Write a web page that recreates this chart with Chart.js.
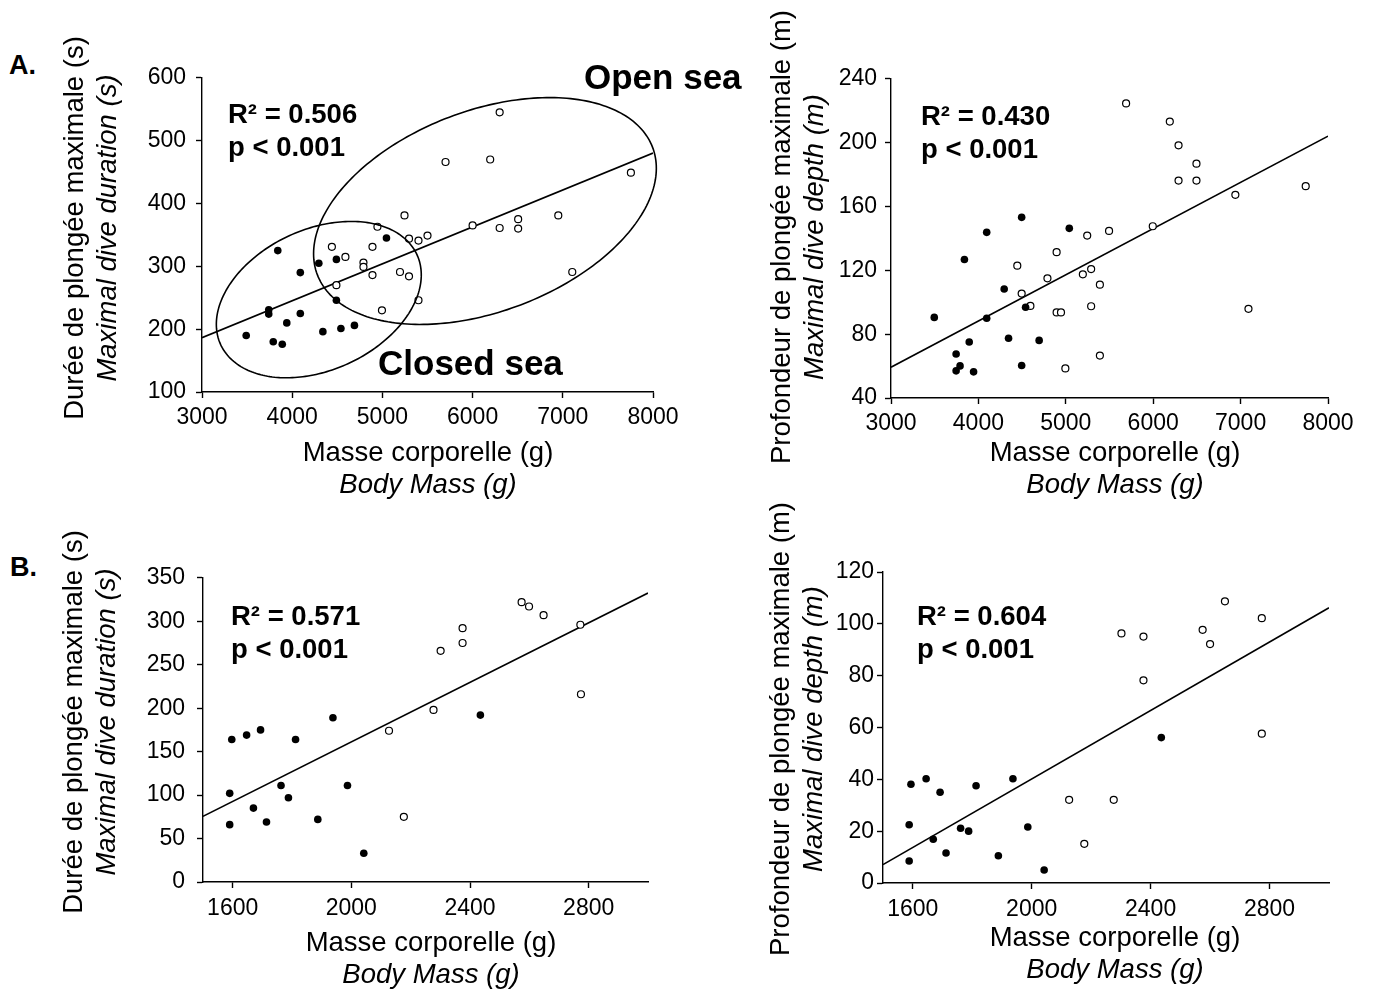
<!DOCTYPE html>
<html lang="fr">
<head>
<meta charset="utf-8">
<title>Plongée maximale et masse corporelle</title>
<script src="https://cdn.jsdelivr.net/npm/chart.js@4.4.1/dist/chart.umd.min.js"></script>
<style>
  html, body { margin: 0; padding: 0; background: #fff; }
  body { width: 1380px; height: 989px; position: relative; overflow: hidden;
         font-family: "Liberation Sans", Arial, Helvetica, sans-serif; color: #000; }
  canvas { position: absolute; z-index: 1; }
  .txt { position: absolute; white-space: nowrap; z-index: 2; }
  .axis-h { font-size: 27.5px; line-height: 32px; text-align: center; width: 420px; }
  .axis-v { font-size: 27.5px; line-height: 33px; text-align: center; width: 520px; height: 66px;
            transform: rotate(-90deg); }
  .stat { font-size: 27.5px; font-weight: bold; line-height: 33px; }
  .zone { font-size: 35px; font-weight: bold; line-height: 35px; }
  .panel { font-size: 27px; font-weight: bold; line-height: 27px; }
  i { font-style: italic; }
</style>
</head>
<body>

<div class="txt panel" style="left:9px; top:52px">A.</div>
<div class="txt panel" style="left:10px; top:554px">B.</div>

<canvas id="aDur"></canvas>
<canvas id="aDep"></canvas>
<canvas id="bDur"></canvas>
<canvas id="bDep"></canvas>

<!-- axis titles -->
<div class="txt axis-v" style="left:-170px; top:195px">Durée de plongée maximale (s)<br><i>Maximal dive duration (s)</i></div>
<div class="txt axis-v" style="left:537px; top:204px">Profondeur de plongée maximale (m)<br><i>Maximal dive depth (m)</i></div>
<div class="txt axis-v" style="left:-171px; top:689px">Durée de plongée maximale (s)<br><i>Maximal dive duration (s)</i></div>
<div class="txt axis-v" style="left:536px; top:696px">Profondeur de plongée maximale (m)<br><i>Maximal dive depth (m)</i></div>

<div class="txt axis-h" style="left:218px; top:436px">Masse corporelle (g)<br><i>Body Mass (g)</i></div>
<div class="txt axis-h" style="left:905px; top:436px">Masse corporelle (g)<br><i>Body Mass (g)</i></div>
<div class="txt axis-h" style="left:221px; top:926px">Masse corporelle (g)<br><i>Body Mass (g)</i></div>
<div class="txt axis-h" style="left:905px; top:921px">Masse corporelle (g)<br><i>Body Mass (g)</i></div>

<!-- fit statistics -->
<div class="txt stat" style="left:228px; top:97px">R² = 0.506<br>p &lt; 0.001</div>
<div class="txt stat" style="left:921px; top:99px">R² = 0.430<br>p &lt; 0.001</div>
<div class="txt stat" style="left:231px; top:599px">R² = 0.571<br>p &lt; 0.001</div>
<div class="txt stat" style="left:917px; top:599px">R² = 0.604<br>p &lt; 0.001</div>

<div class="txt zone" style="left:584px; top:59px">Open sea</div>
<div class="txt zone" style="left:378px; top:345px">Closed sea</div>

<script>
// --- A: adults, duration (s) vs mass (g) ---
const A_DUR_CLOSED_MASS = [3490, 3790, 3890, 3740, 3740, 3840, 3940, 4090, 4090, 4295, 4340, 4490, 4490, 4540, 4690, 5045];
const A_DUR_CLOSED_S    = [190, 180, 176, 231, 224, 325, 210, 290, 225, 305, 196, 311, 246, 201, 206, 345];
const A_DUR_OPEN_MASS   = [4440, 4590, 4790, 4790, 4490, 4890, 4890, 4945, 4995, 5195, 5295, 5295, 5400, 5400, 5500, 5245,
                           5700, 6000, 6195, 6300, 6300, 6505, 6505, 6950, 7105, 7755];
const A_DUR_OPEN_S      = [331, 315, 306, 299, 270, 331, 286, 363, 230, 291, 284, 344, 341, 246, 349, 381,
                           466, 365, 470, 545, 361, 375, 360, 381, 291, 449];
const A_DUR_FIT_MASS    = [3000, 8000];
const A_DUR_FIT_S       = [186.4, 480.3];

// --- A: adults, depth (m) vs mass (g) ---
const A_DEP_CLOSED_MASS = [3495, 3745, 3745, 3790, 3945, 3840, 3895, 4095, 4095, 4295, 4345, 4495, 4495, 4540, 4695, 5040];
const A_DEP_CLOSED_M    = [90.5, 67.6, 57, 60.1, 56.4, 126.8, 75.1, 143.8, 90, 108.3, 77.4, 153.2, 60.4, 96.9, 76.1, 146.3];
const A_DEP_OPEN_MASS   = [4445, 4495, 4595, 4790, 4895, 4895, 4945, 4995, 5195, 5245, 5290, 5290, 5390, 5390, 5495,
                           5690, 5995, 6190, 6290, 6290, 6495, 6495, 6940, 7090, 7745];
const A_DEP_OPEN_M      = [122.9, 105.4, 97.7, 115, 131.4, 93.6, 93.6, 58.5, 117.5, 141.8, 120.8, 97.5, 111, 66.6, 144.7,
                           224.6, 147.6, 213.2, 198.3, 176.2, 186.8, 176.2, 167.3, 95.9, 172.7];
const A_DEP_FIT_MASS    = [3000, 8000];
const A_DEP_FIT_M       = [59.3, 204.1];

// --- B: duration (s) vs mass (g) ---
const B_DUR_CLOSED_MASS = [1597, 1647, 1694, 1812, 1938, 1590, 1590, 1670, 1714, 1763, 1788, 1887, 1987, 2042, 2435];
const B_DUR_CLOSED_S    = [164, 169, 175, 164, 189, 102, 66, 85, 69, 111, 97, 72, 111, 33, 192];
const B_DUR_OPEN_MASS   = [2127, 2177, 2277, 2301, 2375, 2375, 2574, 2599, 2648, 2772, 2774];
const B_DUR_OPEN_S      = [174, 75, 198, 266, 275, 292, 322, 317, 307, 296, 216];
const B_DUR_FIT_MASS    = [1500, 3000];
const B_DUR_FIT_S       = [75.5, 332.5];

// --- B: depth (m) vs mass (g) ---
const B_DEP_CLOSED_MASS = [1594, 1645, 1692, 1813, 1937, 1588, 1588, 1669, 1712, 1761, 1788, 1888, 1987, 2042, 2436];
const B_DEP_CLOSED_M    = [38.1, 40.2, 35.0, 37.5, 40.2, 22.5, 8.5, 16.9, 11.6, 21.1, 20.0, 10.5, 21.6, 5.0, 56.1];
const B_DEP_OPEN_MASS   = [2126, 2177, 2276, 2302, 2376, 2376, 2575, 2600, 2650, 2774, 2774];
const B_DEP_OPEN_M      = [32.1, 15.1, 32.1, 96.3, 95.1, 78.2, 97.7, 92.2, 108.7, 102.2, 57.6];
const B_DEP_FIT_MASS    = [1500, 3000];
const B_DEP_FIT_M       = [7.1, 106.2];

// tick values
const TICKS_MASS_A = [3000, 4000, 5000, 6000, 7000, 8000];
const TICKS_MASS_B = [1600, 2000, 2400, 2800];
const TICKS_DUR_A  = [100, 200, 300, 400, 500, 600];
const TICKS_DEP_A  = [40, 80, 120, 160, 200, 240];
const TICKS_DUR_B  = [0, 50, 100, 150, 200, 250, 300, 350];
const TICKS_DEP_B  = [0, 20, 40, 60, 80, 100, 120];

// habitat zones on the A duration plot (data units; skew = y shift at the x extremes)
const ZONE_CLOSED = { cx: 4295, cy: 247, rx: 1136, ry: 124.4, skew: 39.3 };
const ZONE_OPEN   = { cx: 6137, cy: 388, rx: 1900, ry: 180.5, skew: 68 };

Chart.defaults.font.family = '"Liberation Sans", Arial, Helvetica, sans-serif';
Chart.defaults.font.size = 23;
Chart.defaults.color = '#000';

const pts = (xs, ys) => xs.map((x, i) => ({ x, y: ys[i] }));

function zonesPlugin(zones) {
  return {
    id: 'zones',
    afterDatasetsDraw(chart) {
      const { ctx, scales: { x, y } } = chart;
      ctx.save();
      ctx.lineWidth = 1.6;
      ctx.strokeStyle = '#000';
      zones.forEach(z => {
        const k = Math.sqrt(z.ry * z.ry - z.skew * z.skew);
        ctx.beginPath();
        for (let i = 0; i <= 240; i++) {
          const t = i / 240 * Math.PI * 2;
          const px = x.getPixelForValue(z.cx + z.rx * Math.cos(t));
          const py = y.getPixelForValue(z.cy + z.skew * Math.cos(t) + k * Math.sin(t));
          if (i === 0) ctx.moveTo(px, py); else ctx.lineTo(px, py);
        }
        ctx.closePath();
        ctx.stroke();
      });
      ctx.restore();
    }
  };
}

function axis(range, ticks, pad, fit) {
  return {
    type: 'linear',
    min: range[0],
    max: range[1],
    afterBuildTicks: s => { s.ticks = ticks.map(v => ({ value: v })); },
    afterFit: fit,
    ticks: { padding: pad, color: '#000', callback: v => String(v) },
    grid: { drawOnChartArea: false, drawTicks: true, tickLength: 6, tickWidth: 1.4, tickColor: '#000' },
    border: { display: true, color: '#000', width: 1.4 },
  };
}

// box = chart area in page pixels
function drawPanel(id, box, p) {
  const YW = 100, PT = 20, PR = 40, XH = 50;
  const cv = document.getElementById(id);
  cv.width = box.r - box.l + YW + PR;
  cv.height = box.b - box.t + PT + XH;
  cv.style.left = (box.l - YW) + 'px';
  cv.style.top = (box.t - PT) + 'px';

  return new Chart(cv, {
    type: 'scatter',
    data: {
      datasets: [
        {
          data: pts(p.closed[0], p.closed[1]),
          pointRadius: 3.8, pointBackgroundColor: '#000', pointBorderColor: '#000', pointBorderWidth: 0,
          order: 0,
        },
        {
          data: pts(p.open[0], p.open[1]),
          pointRadius: 3.5, pointBackgroundColor: '#fff', pointBorderColor: '#000', pointBorderWidth: 1.2,
          order: 1,
        },
        {
          type: 'line',
          data: pts(p.fit[0], p.fit[1]),
          borderColor: '#000', borderWidth: 1.6, pointRadius: 0, fill: false, tension: 0,
          order: 2,
        },
      ]
    },
    options: {
      responsive: false,
      animation: false,
      events: [],
      layout: { padding: { top: PT, right: PR, bottom: 0, left: 0 } },
      plugins: { legend: { display: false }, tooltip: { enabled: false } },
      scales: {
        x: axis(p.xRange, p.xTicks, p.xPad, s => { s.height = XH; }),
        y: axis(p.yRange, p.yTicks, p.yPad, s => { s.width = YW; }),
      }
    },
    plugins: p.zones ? [zonesPlugin(p.zones)] : [],
  });
}

drawPanel('aDur', { l: 202, t: 74, r: 653, b: 392 }, {
  closed: [A_DUR_CLOSED_MASS, A_DUR_CLOSED_S],
  open: [A_DUR_OPEN_MASS, A_DUR_OPEN_S],
  fit: [A_DUR_FIT_MASS, A_DUR_FIT_S],
  xRange: [3000, 8000], xTicks: TICKS_MASS_A, xPad: 6,
  yRange: [100, 600], yTicks: TICKS_DUR_A, yPad: 10,
  zones: [ZONE_CLOSED, ZONE_OPEN],
});

drawPanel('aDep', { l: 891, t: 77, r: 1328, b: 398 }, {
  closed: [A_DEP_CLOSED_MASS, A_DEP_CLOSED_M],
  open: [A_DEP_OPEN_MASS, A_DEP_OPEN_M],
  fit: [A_DEP_FIT_MASS, A_DEP_FIT_M],
  xRange: [3000, 8000], xTicks: TICKS_MASS_A, xPad: 6,
  yRange: [40, 240], yTicks: TICKS_DEP_A, yPad: 8,
});

drawPanel('bDur', { l: 203, t: 572, r: 648, b: 882 }, {
  closed: [B_DUR_CLOSED_MASS, B_DUR_CLOSED_S],
  open: [B_DUR_OPEN_MASS, B_DUR_OPEN_S],
  fit: [B_DUR_FIT_MASS, B_DUR_FIT_S],
  xRange: [1500, 3000], xTicks: TICKS_MASS_B, xPad: 7,
  yRange: [0, 350], yTicks: TICKS_DUR_B, yPad: 12,
});

drawPanel('bDep', { l: 883, t: 572, r: 1329, b: 883 }, {
  closed: [B_DEP_CLOSED_MASS, B_DEP_CLOSED_M],
  open: [B_DEP_OPEN_MASS, B_DEP_OPEN_M],
  fit: [B_DEP_FIT_MASS, B_DEP_FIT_M],
  xRange: [1500, 3000], xTicks: TICKS_MASS_B, xPad: 7,
  yRange: [0, 120], yTicks: TICKS_DEP_B, yPad: 3,
});
</script>
</body>
</html>
